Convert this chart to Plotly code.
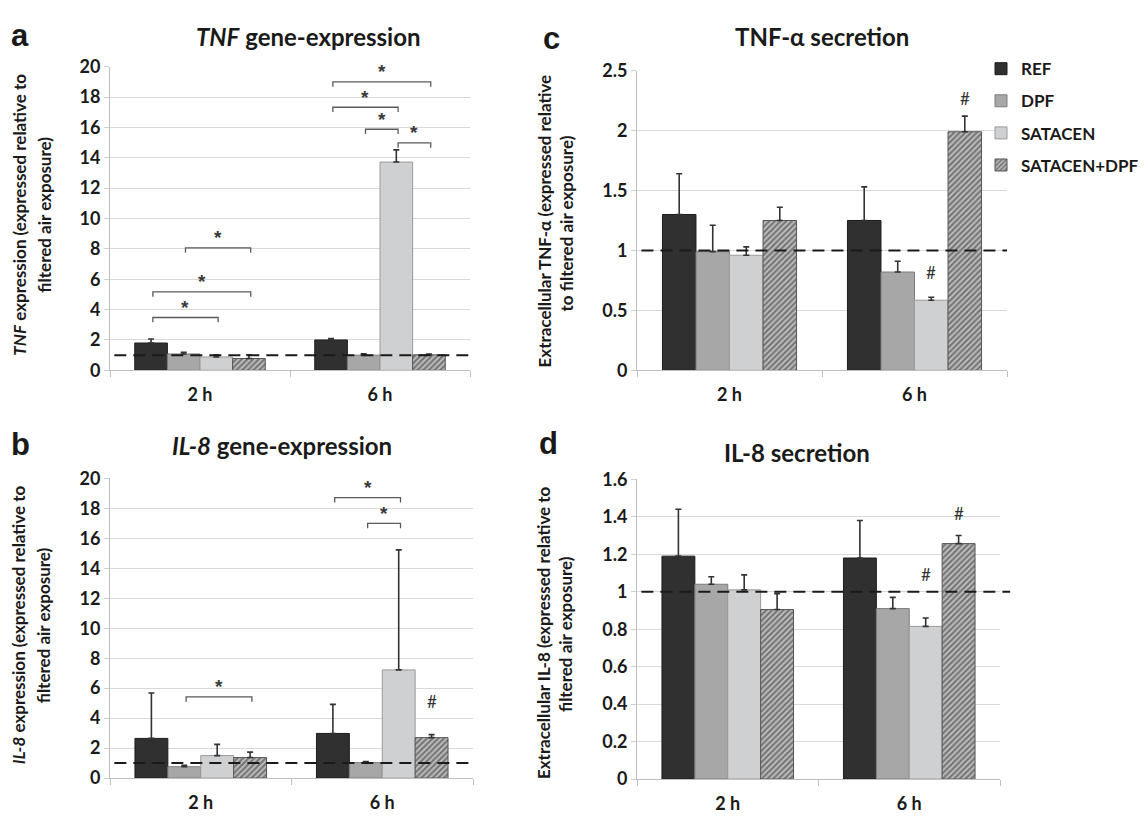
import plotly.graph_objects as go

W, H = 1148, 820
OFF = 8  # page body margin offset (px)

categories = ["2 h", "6 h"]
series_names = ["REF", "DPF", "SATACEN", "SATACEN+DPF"]

# Panel a: TNF gene-expression (mean, upper error)
tnf_gene_ref = [1.80, 2.00]
tnf_gene_ref_err = [0.26, 0.09]
tnf_gene_dpf = [1.08, 1.00]
tnf_gene_dpf_err = [0.11, 0.09]
tnf_gene_sat = [0.88, 13.72]
tnf_gene_sat_err = [0.14, 0.80]
tnf_gene_sd = [0.78, 1.02]
tnf_gene_sd_err = [0.24, 0.06]

# Panel b: IL-8 gene-expression
il8_gene_ref = [2.65, 2.98]
il8_gene_ref_err = [3.03, 1.94]
il8_gene_dpf = [0.76, 1.03]
il8_gene_dpf_err = [0.10, 0.08]
il8_gene_sat = [1.50, 7.22]
il8_gene_sat_err = [0.75, 8.01]
il8_gene_sd = [1.37, 2.70]
il8_gene_sd_err = [0.36, 0.20]

# Panel c: TNF-alpha secretion
tnf_sec_ref = [1.30, 1.25]
tnf_sec_ref_err = [0.34, 0.28]
tnf_sec_dpf = [0.99, 0.82]
tnf_sec_dpf_err = [0.22, 0.09]
tnf_sec_sat = [0.96, 0.585]
tnf_sec_sat_err = [0.07, 0.025]
tnf_sec_sd = [1.25, 1.99]
tnf_sec_sd_err = [0.11, 0.13]

# Panel d: IL-8 secretion
il8_sec_ref = [1.19, 1.18]
il8_sec_ref_err = [0.25, 0.20]
il8_sec_dpf = [1.04, 0.91]
il8_sec_dpf_err = [0.04, 0.06]
il8_sec_sat = [1.01, 0.815]
il8_sec_sat_err = [0.08, 0.045]
il8_sec_sd = [0.905, 1.257]
il8_sec_sd_err = [0.085, 0.043]

# significance brackets: (category index, series i, series j, y)
tnf_gene_brackets = [(0, 0, 2, 3.48), (0, 0, 3, 5.17), (0, 1, 3, 8.07),
                     (1, 0, 3, 19.0), (1, 0, 2, 17.33), (1, 1, 2, 15.88), (1, 2, 3, 14.98)]
il8_gene_brackets = [(0, 1, 3, 5.42), (1, 0, 2, 18.72), (1, 1, 2, 17.0)]
# '#' marks: (category index, series, y)
il8_gene_hash = [(1, 3, 5.1)]
tnf_sec_hash = [(1, 2, 0.82), (1, 3, 2.27)]
il8_sec_hash = [(1, 2, 1.09), (1, 3, 1.42)]

FONT = "Lato"
BARGAP = 0.275
fill_colors = ["#303030", "#a7a7a7", "#cfd0d2", "#bdbdbd"]
line_colors = ["#1c1c1c", "#7c7c7c", "#9a9a9a", "#555555"]


def fx(p):
    return (p - OFF) / W


def fy(p):
    return 1 - (p - OFF) / H


panels = [
    dict(xa="x", ya="y", xd=(110, 470), yd=(56, 368), yr=(0, 20), dt=2,
         data=[(tnf_gene_ref, tnf_gene_ref_err), (tnf_gene_dpf, tnf_gene_dpf_err),
               (tnf_gene_sat, tnf_gene_sat_err), (tnf_gene_sd, tnf_gene_sd_err)],
         brackets=tnf_gene_brackets, hashes=[], x1=1.0, legend=False),
    dict(xa="x2", ya="y2", xd=(110, 473), yd=(479, 787), yr=(0, 20), dt=2,
         data=[(il8_gene_ref, il8_gene_ref_err), (il8_gene_dpf, il8_gene_dpf_err),
               (il8_gene_sat, il8_gene_sat_err), (il8_gene_sd, il8_gene_sd_err)],
         brackets=il8_gene_brackets, hashes=il8_gene_hash, x1=1.0, legend=False),
    dict(xa="x3", ya="y3", xd=(637, 1007), yd=(60, 368), yr=(0, 2.5), dt=0.5,
         data=[(tnf_sec_ref, tnf_sec_ref_err), (tnf_sec_dpf, tnf_sec_dpf_err),
               (tnf_sec_sat, tnf_sec_sat_err), (tnf_sec_sd, tnf_sec_sd_err)],
         brackets=[], hashes=tnf_sec_hash, x1=1.0, legend=True),
    dict(xa="x4", ya="y4", xd=(637, 1000), yd=(480, 788), yr=(0, 1.6), dt=0.2,
         data=[(il8_sec_ref, il8_sec_ref_err), (il8_sec_dpf, il8_sec_dpf_err),
               (il8_sec_sat, il8_sec_sat_err), (il8_sec_sd, il8_sec_sd_err)],
         brackets=[], hashes=il8_sec_hash, x1=1.028, legend=False),
]


def bar_center(cat, i):
    w = 1 - BARGAP
    return cat - w / 2 + (i + 0.5) * w / 4


fig = go.Figure()
shapes = []
annotations = []
layout_axes = {}

for p in panels:
    for i, (vals, errs) in enumerate(p["data"]):
        marker = dict(color=fill_colors[i], line=dict(color=line_colors[i], width=1))
        if i == 3:
            marker["pattern"] = dict(shape="/", fgcolor="#2a2a2a", bgcolor="#c2c2c2",
                                     size=4, solidity=0.55)
        fig.add_trace(go.Bar(
            x=categories, y=vals, name=series_names[i], xaxis=p["xa"], yaxis=p["ya"],
            marker=marker, legendgroup=series_names[i], showlegend=p["legend"],
            error_y=dict(type="data", symmetric=False, array=errs, arrayminus=[0] * len(errs),
                         color="#333333", thickness=1.6, width=3),
            hoverinfo="skip",
        ))
    xname = "xaxis" + p["xa"][1:]
    yname = "yaxis" + p["ya"][1:]
    layout_axes[xname] = dict(
        domain=[fx(p["xd"][0]), fx(p["xd"][1])], anchor=p["ya"], type="category",
        range=[-0.5, 1.5], tickson="boundaries", ticks="outside", ticklen=6,
        tickcolor="#bfbfbf", showline=True, linecolor="#bfbfbf", linewidth=1,
        showgrid=False, tickfont=dict(family=FONT, size=18, color="#1a1a1a", weight="bold"),
        ticklabelstandoff=8, fixedrange=True,
    )
    layout_axes[yname] = dict(
        domain=[fy(p["yd"][1]), fy(p["yd"][0])], anchor=p["xa"],
        range=list(p["yr"]), dtick=p["dt"], tick0=0, showgrid=True, gridcolor="#d9d9d9",
        gridwidth=1, zeroline=False, showline=True, linecolor="#bfbfbf", linewidth=1,
        ticks="outside", ticklen=5, tickcolor="#d0d0d0",
        tickfont=dict(family=FONT, size=18, color="#1a1a1a", weight="bold"), fixedrange=True,
    )
    # reference dashed line at 1
    shapes.append(dict(type="line", xref=p["xa"] + " domain", yref=p["ya"],
                       x0=0.012, x1=p["x1"], y0=1, y1=1, layer="above",
                       line=dict(color="#1a1a1a", width=2, dash="12px,7px")))
    drop = (p["yr"][1] - p["yr"][0]) / (p["yd"][1] - p["yd"][0]) * 5
    for cat, i, j, yb in p["brackets"]:
        xa_, xb_ = bar_center(cat, i) + 0.01, bar_center(cat, j) + 0.01
        shapes.append(dict(type="path", xref=p["xa"], yref=p["ya"],
                           path=f"M {xa_},{yb - drop} L {xa_},{yb} L {xb_},{yb} L {xb_},{yb - drop}",
                           line=dict(color="#5a5a5a", width=1.3)))
        annotations.append(dict(x=(xa_ + xb_) / 2, y=yb, xref=p["xa"], yref=p["ya"],
                                text="*", showarrow=False, yanchor="middle", yshift=10,
                                font=dict(family="Liberation Sans", size=19, color="#3a3a3a",
                                          weight="bold")))
    for cat, i, yh in p["hashes"]:
        annotations.append(dict(x=bar_center(cat, i), y=yh, xref=p["xa"], yref=p["ya"],
                                text="#", showarrow=False, yanchor="middle",
                                font=dict(family=FONT, size=17, color="#333333")))


def pa(x, y, text, size, weight="bold", family=FONT, angle=0):
    annotations.append(dict(x=fx(x), y=fy(y), xref="paper", yref="paper", text=text,
                            showarrow=False, xanchor="center", yanchor="middle",
                            textangle=angle,
                            font=dict(family=family, size=size, color="#1a1a1a", weight=weight)))


# panel letters
pa(20, 24, "a", 31, family="Liberation Sans")
pa(20, 444, "b", 31, family="Liberation Sans")
pa(551, 27, "c", 31, family="Liberation Sans")
pa(548, 443, "d", 31, family="Liberation Sans")
# panel titles
pa(308, 25, "<i>TNF</i> gene-expression", 24)
pa(282, 445, "<i>IL-8</i> gene-expression", 24)
pa(822, 25, "TNF-α secretion", 24)
pa(797, 452, "IL-8 secretion", 24)
# y-axis titles (two lines each)
pa(20, 208, "<i>TNF</i> expression (expressed relative to", 17, angle=-90)
pa(45, 208, "filtered air exposure)", 17, angle=-90)
pa(18, 630, "<i>IL-8</i> expression (expressed relative to", 17, angle=-90)
pa(43, 630, "filtered air exposure)", 17, angle=-90)
pa(544, 215, "Extracellular TNF-α (expressed relative", 17, angle=-90)
pa(566, 217, "to filtered air exposure)", 17, angle=-90)
pa(543, 638, "Extracellular IL-8 (expressed relative to", 17, angle=-90)
pa(565, 639, "filtered air exposure)", 17, angle=-90)

fig.update_layout(
    width=W, height=H, margin=dict(l=0, r=0, t=0, b=0),
    paper_bgcolor="white", plot_bgcolor="white",
    barmode="group", bargap=BARGAP, bargroupgap=0,
    showlegend=True,
    legend=dict(x=fx(981), y=fy(40), xanchor="left", yanchor="top",
                font=dict(family=FONT, size=17, color="#1a1a1a", weight="bold"),
                tracegroupgap=7, bgcolor="rgba(0,0,0,0)", itemclick=False),
    shapes=shapes, annotations=annotations, **layout_axes,
)

fig.write_html("out.html")
